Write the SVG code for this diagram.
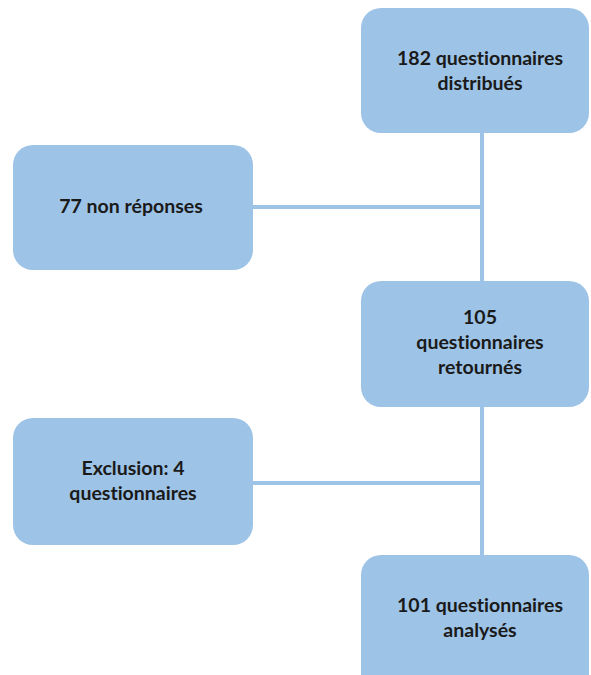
<svg xmlns="http://www.w3.org/2000/svg" width="591" height="675" viewBox="0 0 591 675">
<style>
.box{fill:#9DC3E6;}
.lbl{font-family:Lato,"Open Sans","Liberation Sans",sans-serif;font-weight:bold;font-size:19.5px;fill:#1a1a1a;text-anchor:middle;font-variant-ligatures:none;}
.conn{stroke:#9DC3E6;stroke-width:4;fill:none;}
</style>
<rect width="591" height="675" fill="#ffffff"/>
<g id="connectors">
<line class="conn" x1="482" y1="133" x2="482" y2="555"/>
<line class="conn" x1="253" y1="207" x2="482" y2="207"/>
<line class="conn" x1="253" y1="483" x2="482" y2="483"/>
</g>
<g id="n1">
<rect class="box" x="361" y="8" width="228" height="125" rx="20"/>
<text class="lbl" x="480" y="65">182 questionnaires</text>
<text class="lbl" x="480" y="90">distribués</text>
</g>
<g id="n2">
<rect class="box" x="13" y="145" width="240" height="125" rx="20"/>
<text class="lbl" x="131" y="213">77 non réponses</text>
</g>
<g id="n3">
<rect class="box" x="361" y="281" width="228" height="126" rx="20"/>
<text class="lbl" x="480" y="324">105</text>
<text class="lbl" x="480" y="349">questionnaires</text>
<text class="lbl" x="480" y="374">retournés</text>
</g>
<g id="n4">
<rect class="box" x="13" y="418" width="240" height="127" rx="20"/>
<text class="lbl" x="133" y="475">Exclusion: 4</text>
<text class="lbl" x="133" y="500">questionnaires</text>
</g>
<g id="n5">
<rect class="box" x="361" y="555" width="228" height="140" rx="20"/>
<text class="lbl" x="480" y="612">101 questionnaires</text>
<text class="lbl" x="480" y="637">analysés</text>
</g>
</svg>
